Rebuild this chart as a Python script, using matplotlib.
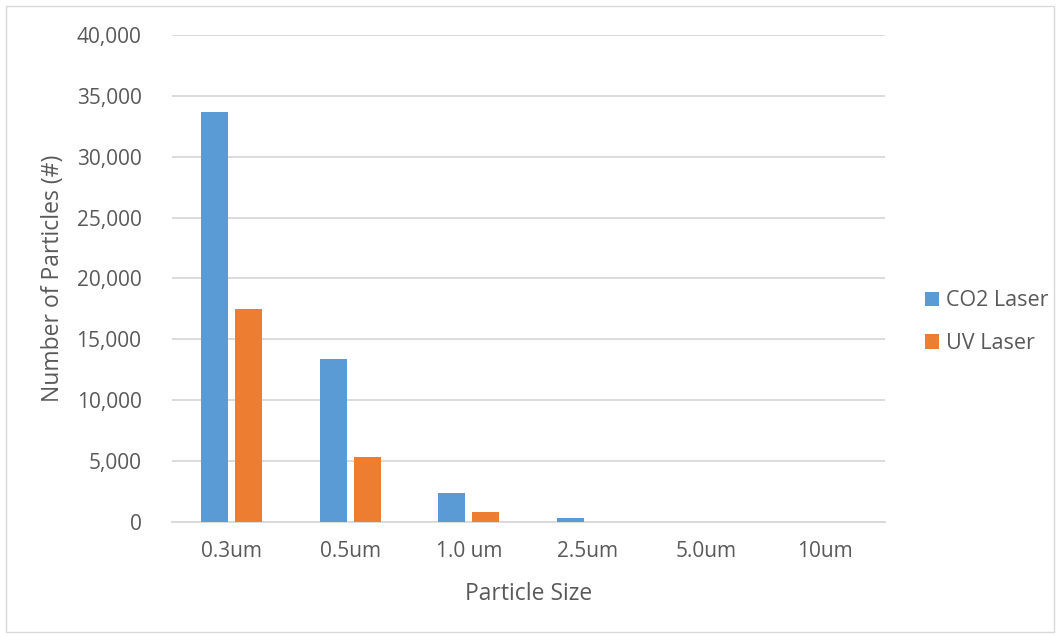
import matplotlib.pyplot as plt
import numpy as np
from matplotlib.patches import Rectangle

plt.rcParams['font.family'] = ['Open Sans', 'DejaVu Sans']

# dados
tamanhos = ["0.3um", "0.5um", "1.0 um", "2.5um", "5.0um", "10um"]
co2_laser = [33700, 13350, 2400, 300, 0, 0]
uv_laser = [17500, 5300, 780, 15, 0, 0]

cinza_texto = "#595959"
azul = "#5B9BD5"
laranja = "#ED7D31"

fig = plt.figure(figsize=(10.62, 6.37), dpi=100)
ax = fig.add_axes([0.162, 0.181, 0.671, 0.764])

# borda externa do gráfico
fig.patches.append(Rectangle((0.006, 0.008), 0.986, 0.983, transform=fig.transFigure,
                             fill=False, edgecolor="#D9D9D9", linewidth=1))

x = np.arange(len(tamanhos))
largura = 0.227
ax.bar(x - 0.143, co2_laser, largura, color=azul, label="CO2 Laser", zorder=3)
ax.bar(x + 0.143, uv_laser, largura, color=laranja, label="UV Laser", zorder=3)

ax.set_xlim(-0.5, len(tamanhos) - 0.5)
ax.set_ylim(0, 40000)
ax.set_yticks(range(0, 40001, 5000))
ax.yaxis.set_major_formatter(plt.FuncFormatter(lambda v, p: f"{int(v):,}"))
ax.set_xticks(x)
ax.set_xticklabels(tamanhos)

ax.grid(axis="y", color="#D9D9D9", linewidth=1.3, zorder=0)
for lado in ["top", "right", "left"]:
    ax.spines[lado].set_visible(False)
ax.spines["bottom"].set_color("#D9D9D9")
ax.spines["bottom"].set_linewidth(1.3)
ax.tick_params(length=0, labelsize=15, labelcolor=cinza_texto)
ax.tick_params(axis="y", pad=22)
ax.tick_params(axis="x", pad=14)

ax.set_xlabel("Particle Size", fontsize=16.5, color=cinza_texto, labelpad=14)
ax.set_ylabel("Number of Particles (#)", fontsize=16.5, color=cinza_texto, labelpad=8)

ax.legend(loc="center left", bbox_to_anchor=(1.03, 0.41), frameon=False, fontsize=15.5,
          labelcolor=cinza_texto, handlelength=0.65, handleheight=0.65, handletextpad=0.3,
          labelspacing=1.0)

plt.savefig("out.png", dpi=100)
